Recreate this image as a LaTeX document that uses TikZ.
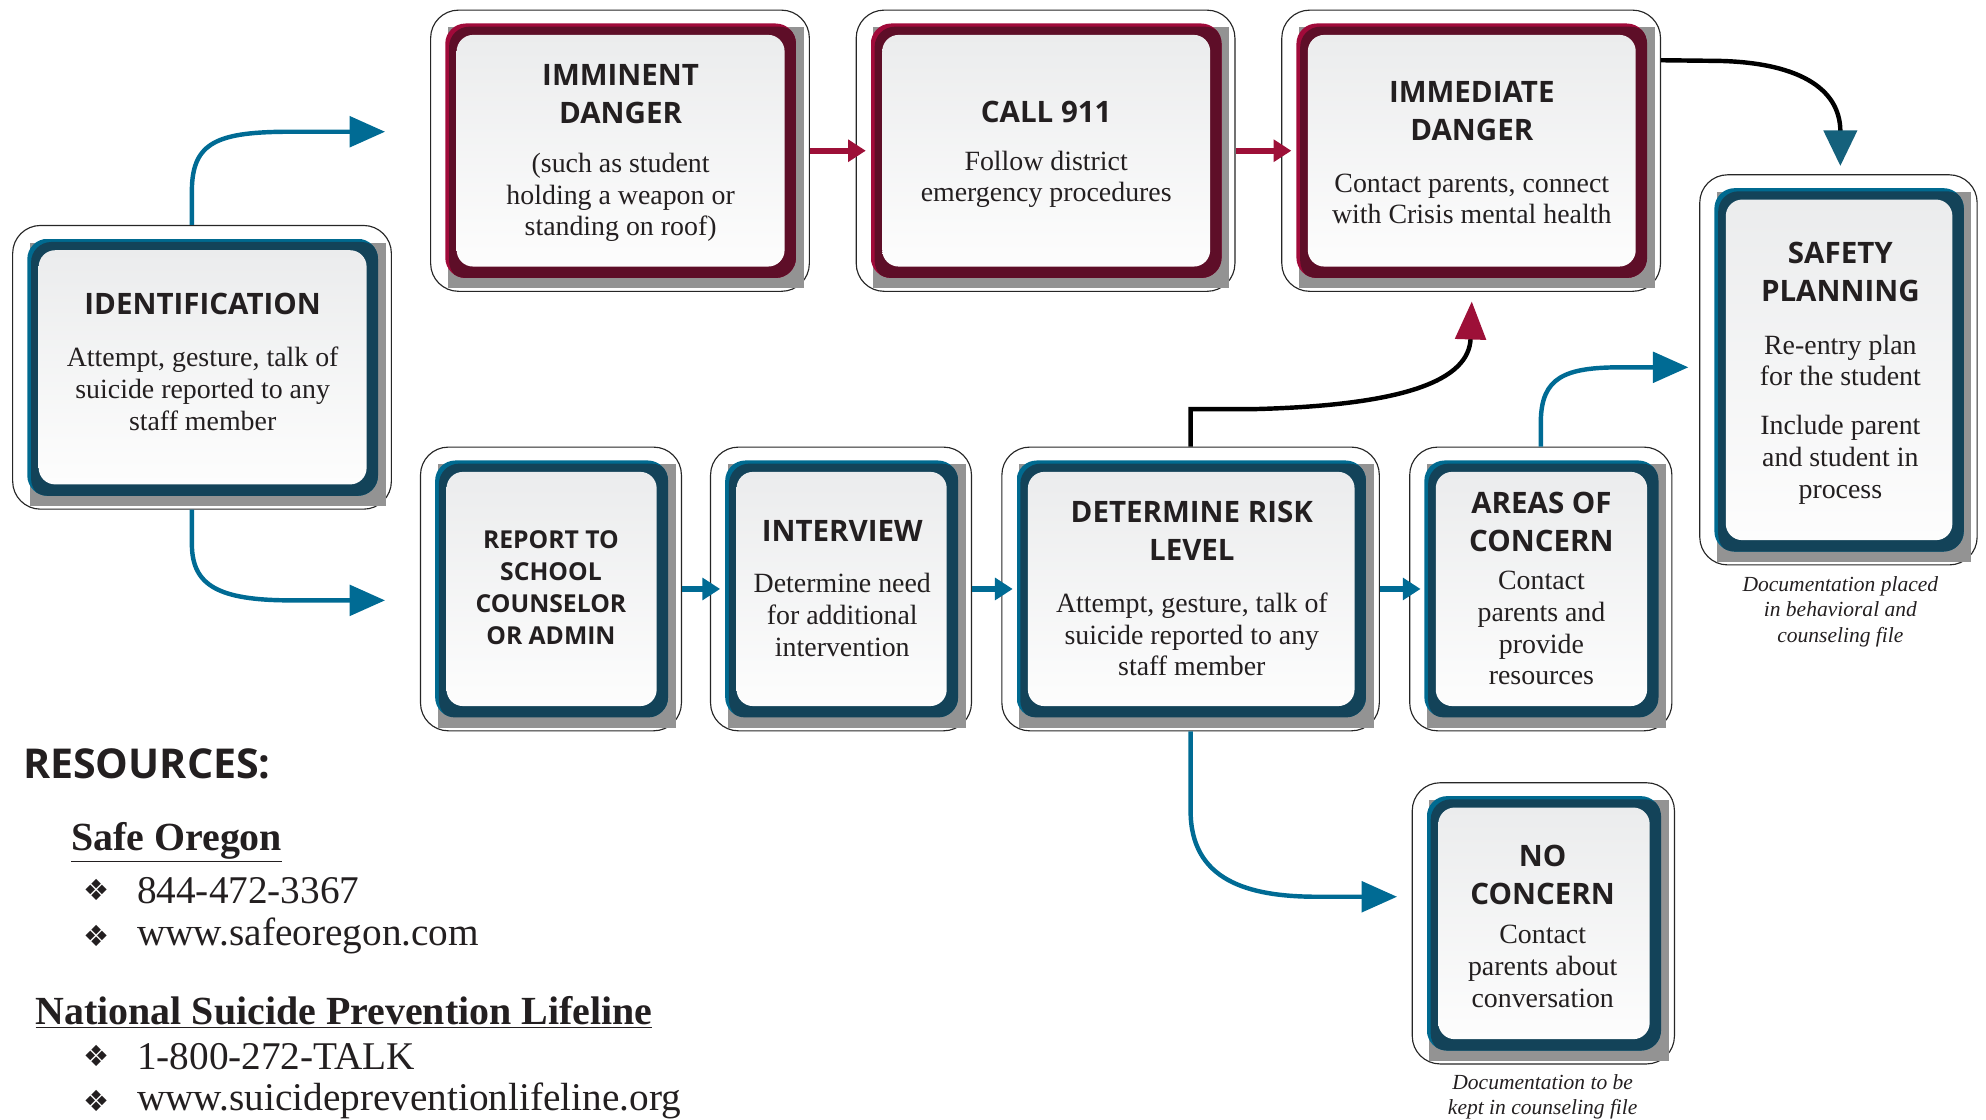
\documentclass[tikz,border=0pt]{standalone}
\usepackage{fontspec}
\setmainfont{Liberation Serif}
\newfontfamily\ttlfont{Open Sans}
\newfontfamily\symfont{DejaVu Sans}
\usetikzlibrary{arrows.meta,calc}
\definecolor{blueDark}{HTML}{134359}
\definecolor{blueLight}{HTML}{006A90}
\definecolor{redDark}{HTML}{5E0E28}
\definecolor{redLight}{HTML}{A10A3A}
\definecolor{arrBlue}{HTML}{006B94}
\definecolor{arrRed}{HTML}{9D1038}
\definecolor{arrTeal}{HTML}{15617C}
\definecolor{shadowgray}{HTML}{939393}
\definecolor{innertop}{HTML}{EBECED}
\definecolor{innerbot}{HTML}{FDFDFD}
\definecolor{txtc}{HTML}{231F20}
\tikzset{
  outerbox/.style={draw=black!85, line width=0.9pt, fill=white, rounded corners=22pt, inner sep=0pt},
  ttl/.style={font=\ttlfont\bfseries\fontsize{23.3}{30}\selectfont, text=txtc, align=center, inner sep=0pt},
  ttlsmall/.style={font=\ttlfont\bfseries\fontsize{19.5}{25.3}\selectfont, text=txtc, align=center, inner sep=0pt},
  bdy/.style={font=\fontsize{22}{25}\selectfont, text=txtc, align=center, inner sep=0pt},
  capt/.style={font=\itshape\fontsize{17}{20}\selectfont, text=txtc, align=center, inner sep=0pt},
  res/.style={font=\fontsize{31}{36}\selectfont, text=txtc, anchor=west, inner sep=0pt},
  resh/.style={font=\bfseries\fontsize{31.5}{36}\selectfont, text=txtc, anchor=west, inner sep=0pt},
  bul/.style={font=\symfont\fontsize{23}{26}\selectfont, text=txtc, inner sep=0pt},
  bigblue/.style={draw=arrBlue, line width=3.5pt, -{Triangle[length=28pt,width=24pt]}},
  smallblue/.style={draw=arrBlue, line width=4.5pt, -{Triangle[length=14pt,width=17pt]}},
  smallred/.style={draw=arrRed, line width=4.5pt, -{Triangle[length=14pt,width=17pt]}},
  blackred/.style={draw=black, line width=3.5pt, -{Triangle[length=30pt,width=24pt,color=arrRed]}},
  blackteal/.style={draw=black, line width=3.5pt, -{Triangle[length=28pt,width=26pt,color=arrTeal]}},
}
\newcommand{\flowbox}[6]{%
  \node[outerbox, minimum width=#4pt, minimum height=#5pt] (#1) at (#2,#3) {};
  \coordinate (#1fa) at ($(#1.north west)+(12,11)$);
  \coordinate (#1fb) at ($(#1.south east)+(-11,-11)$);
  \fill[shadowgray] ($(#1fa)+(2,3)$) rectangle ($(#1fb)+(6,8)$);
  \begin{scope}
    \clip[rounded corners=16pt] (#1fa) rectangle (#1fb);
    \fill[#6Light] (#1fa) rectangle (#1fb);
    \fill[#6Dark, rounded corners=16pt] ($(#1fa)+(3,2.5)$) rectangle ($(#1fb)+(3,2.5)$);
  \end{scope}
  \shade[top color=innertop, bottom color=innerbot, rounded corners=13pt] ($(#1fa)+(9,9)$) rectangle ($(#1fb)+(-9,-9)$);
}
\begin{document}
\begin{tikzpicture}[x=1pt,y=-1pt]
\useasboundingbox (0,0) rectangle (1568,884);

% boxes
\flowbox{imm}{489.5}{119}{299}{222}{red}
\flowbox{call}{825.5}{119}{299}{222}{red}
\flowbox{imd}{1161.5}{119}{299}{222}{red}
\flowbox{id}{159.5}{290}{299}{224}{blue}
\flowbox{rep}{435}{465}{206}{224}{blue}
\flowbox{int}{664}{465}{206}{224}{blue}
\flowbox{det}{940}{465}{298}{224}{blue}
\flowbox{aoc}{1216.5}{465}{207}{224}{blue}
\flowbox{sp}{1451.5}{292}{219}{308}{blue}
\flowbox{nc}{1218.5}{729}{207}{222}{blue}

% texts
\node[ttl] (immT) at (490,74) {IMMINENT\\DANGER};
\node[bdy] (immB) at (490,156) {(such as student\\holding a weapon or\\standing on roof)};
\node[ttl] (callT) at (826,88) {CALL 911};
\node[bdy] (callB) at (826,141.5) {Follow district\\emergency procedures};
\node[ttl] (imdT) at (1162,88) {IMMEDIATE\\DANGER};
\node[bdy] (imdB) at (1162,157) {Contact parents, connect\\with Crisis mental health};
\node[ttl] (idT) at (160,240) {IDENTIFICATION};
\node[bdy] (idB) at (160,307) {Attempt, gesture, talk of\\suicide reported to any\\staff member};
\node[ttlsmall] (repT) at (435,464) {REPORT TO\\SCHOOL\\COUNSELOR\\OR ADMIN};
\node[ttl] (intT) at (665,419) {INTERVIEW};
\node[bdy] (intB) at (665,485.5) {Determine need\\for additional\\intervention};
\node[ttl] (detT) at (941,419) {DETERMINE RISK\\LEVEL};
\node[bdy] (detB) at (941,501) {Attempt, gesture, talk of\\suicide reported to any\\staff member};
\node[ttl] (aocT) at (1217,412) {AREAS OF\\CONCERN};
\node[bdy] (aocB) at (1217,496) {Contact\\parents and\\provide\\resources};
\node[ttl] (spT) at (1453,215) {SAFETY\\PLANNING};
\node[bdy] (spB1) at (1453,284.5) {Re-entry plan\\for the student};
\node[bdy] (spB2) at (1453,363) {Include parent\\and student in\\process};
\node[ttl] (ncT) at (1218,691) {NO\\CONCERN};
\node[bdy] (ncB) at (1218,763) {Contact\\parents about\\conversation};
\node[capt] (spC) at (1453,483) {Documentation placed\\in behavioral and\\counseling file};
\node[capt] (ncC) at (1218,866) {Documentation to be\\kept in counseling file};

% resources
\node[font=\ttlfont\bfseries\fontsize{32.5}{36}\selectfont, text=txtc, anchor=west, inner sep=0pt] (resT) at (18,603) {RESOURCES:};
\node[resh] (so) at (56,665) {\underline{Safe Oregon}};
\node[bul] (b1) at (76,703) {❖};
\node[res] (r1) at (108,703) {844-472-3367};
\node[bul] (b2) at (76,739) {❖};
\node[res] (r2) at (108,739) {www.safeoregon.com};
\node[resh] (ns) at (28,799) {\underline{National Suicide Prevention Lifeline}};
\node[bul] (b3) at (76,834) {❖};
\node[res] (r3) at (108,834) {1-800-272-TALK};
\node[bul] (b4) at (76,869) {❖};
\node[res] (r4) at (108,869) {www.suicidepreventionlifeline.org};

% connectors
\coordinate (idTop) at ($(id.north)+(-8,0)$);
\coordinate (tip1) at (304,104);
\draw[bigblue] (idTop) -- ++(0,-28) .. controls (152,112) and (172,104) .. (230,104) -- (tip1);
\coordinate (idBot) at ($(id.south)+(-8,0)$);
\coordinate (tip2) at (304,474);
\draw[bigblue] (idBot) -- ++(0,28) .. controls (152,462) and (172,474) .. (230,474) -- (tip2);

\draw[smallred] (imm.east) -- ($(call.west)+(8,0)$);
\draw[smallred] (call.east) -- ($(imd.west)+(8,0)$);
\draw[smallblue] (rep.east) -- ($(int.west)+(8,0)$);
\draw[smallblue] (int.east) -- ($(det.west)+(9,0)$);
\draw[smallblue] (det.east) -- ($(aoc.west)+(9,0)$);

\coordinate (tip3) at (1162,238);
\draw[blackred] (det.north) -- (940,323) -- (990,323) .. controls (1110,320) and (1160,300) .. (tip3);

\coordinate (imdOut) at ($(imd.north east)+(0,40)$);
\coordinate (tip4) at (1453,131);
\draw[blackteal] (imdOut) -- (1350,48) .. controls (1420,48) and (1453,70) .. (tip4);

\coordinate (aocTop) at (aoc.north);
\coordinate (tip5) at (1333,290);
\draw[bigblue] (aocTop) -- ++(0,-20) .. controls (1217,298) and (1235,290) .. (1280,290) -- (tip5);

\coordinate (tip6) at (1103,708);
\draw[bigblue] (det.south) -- (940,640) .. controls (940,695) and (985,708) .. (1040,708) -- (tip6);
\end{tikzpicture}
\end{document}
